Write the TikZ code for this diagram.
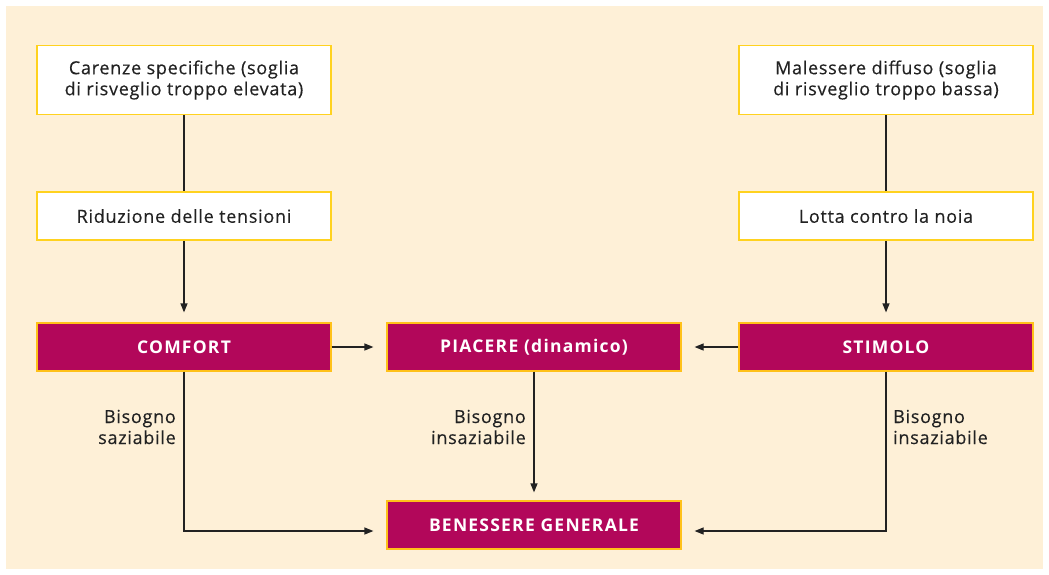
\documentclass[tikz,border=0pt]{standalone}
\usepackage{fontspec}
\setmainfont{Open Sans}[LetterSpace=4]
\newfontfamily\boxbold{Open Sans}[LetterSpace=7,UprightFont=*-Bold]
\usetikzlibrary{arrows.meta}
\definecolor{cream}{HTML}{FEF0D7}
\definecolor{magenta}{HTML}{B2075A}
\definecolor{ybord}{HTML}{FFD21F}
\definecolor{ink}{HTML}{222222}
\tikzset{
  lightbox/.style={draw=ybord, line width=1.6pt, fill=white, minimum width=294pt, inner sep=0pt, align=center, text=ink, font=\fontsize{18}{21}\selectfont\addfontfeatures{FakeBold=0.3}},
  darkbox/.style={draw=ybord!80!orange, line width=1.2pt, fill=magenta, minimum width=294pt, minimum height=48pt, inner sep=0pt, text=white, font=\fontsize{17.5}{21}\selectfont\bfseries\addfontfeatures{LetterSpace=7}},
  conn/.style={draw=ink, line width=1.2pt},
  arr/.style={conn, -{Triangle[length=9pt,width=7pt]}},
  lbl/.style={text=ink, font=\fontsize{18}{21}\selectfont\addfontfeatures{FakeBold=0.3}, inner sep=0pt}
}
\begin{document}
\begin{tikzpicture}[x=1pt,y=-1pt]
\useasboundingbox (0,0) rectangle (1049,574);
\fill[cream] (6,6) rectangle (1043,569);
\node[lightbox, minimum height=69pt] (car) at (184,80) {Carenze specifiche (soglia\\di risveglio troppo elevata)};
\node[lightbox, minimum height=48pt] (rid) at (184,216) {Riduzione delle tensioni};
\node[darkbox] (com) at (184,347) {COMFORT};
\node[darkbox] (pia) at (534,347) {PIACERE (dinamico)};
\node[darkbox] (ben) at (534,525) {BENESSERE GENERALE};
\node[lightbox, minimum height=69pt] (mal) at (886,80) {Malessere diffuso (soglia\\di risveglio troppo bassa)};
\node[lightbox, minimum height=48pt] (lot) at (886,216) {Lotta contro la noia};
\node[darkbox] (sti) at (886,347) {STIMOLO};
\coordinate (cl) at (184,531);
\coordinate (cr) at (886,531);
\draw[conn] (car) -- (rid);
\draw[conn] (mal) -- (lot);
\draw[arr, shorten >=10pt] (rid) -- (com);
\draw[arr, shorten >=10pt] (lot) -- (sti);
\draw[arr, shorten >=13pt] (com) -- (pia);
\draw[arr, shorten >=13pt] (sti) -- (pia);
\draw[arr, shorten >=8pt] (pia) -- (ben);
\draw[arr, shorten >=13pt] (com.south) -- (cl) -- (ben.west |- cl);
\draw[arr, shorten >=13pt] (sti.south) -- (cr) -- (ben.east |- cr);
\node[lbl, anchor=east, align=right] (l1) at (176,427) {Bisogno\\saziabile};
\node[lbl, anchor=east, align=right] (l2) at (526,427) {Bisogno\\insaziabile};
\node[lbl, anchor=west, align=left] (l3) at (893,427) {Bisogno\\insaziabile};
\end{tikzpicture}
\end{document}
